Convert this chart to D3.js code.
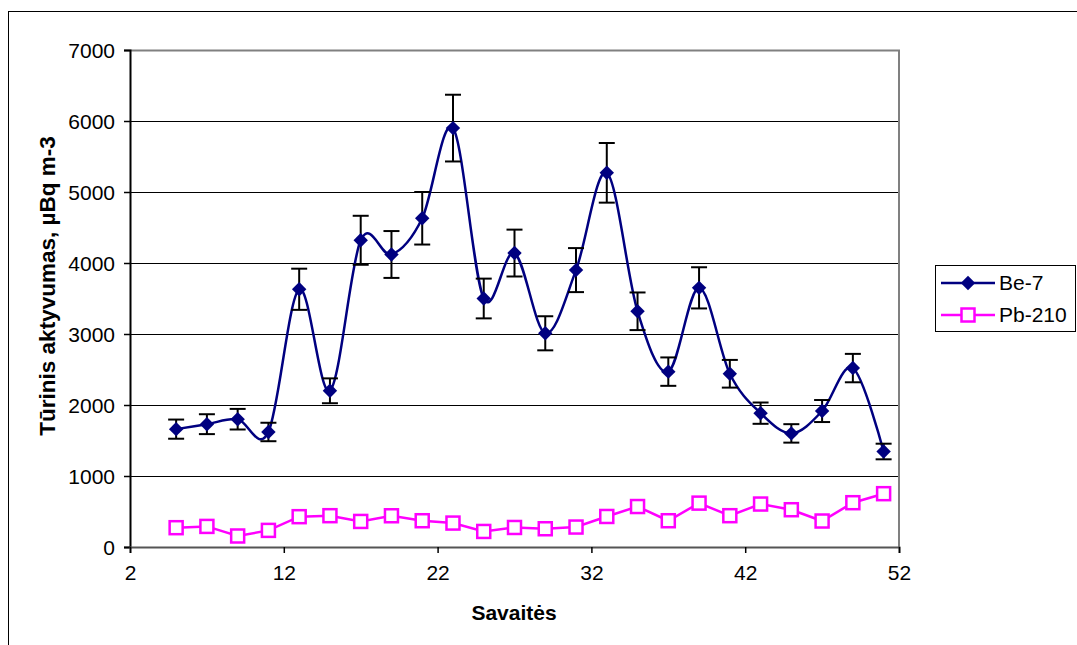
<!DOCTYPE html>
<html>
<head>
<meta charset="utf-8">
<script src="https://cdn.jsdelivr.net/npm/d3@7"></script>
<style>
  body { margin: 0; background: #fff; }
  svg { display: block; font-family: "Liberation Sans", Arial, sans-serif; }
</style>
</head>
<body>
<svg width="1077" height="645"></svg>
<script>
const svg = d3.select("svg");

const width = 1077;
const height = 645;
const plot = { left: 130, right: 899, top: 50, bottom: 547 };

// weeks
const weeks = [5, 7, 9, 11, 13, 15, 17, 19, 21, 23, 25, 27, 29, 31, 33, 35, 37, 39, 41, 43, 45, 47, 49, 51];
const be7 = [1660, 1730, 1800, 1620, 3630, 2200, 4320, 4120, 4630, 5900, 3500, 4140,
             3010, 3900, 5270, 3320, 2470, 3650, 2440, 1885, 1600, 1915, 2520, 1345];
const be7Err = [135, 140, 145, 130, 290, 175, 345, 330, 370, 470, 280, 330,
                240, 310, 420, 265, 200, 290, 195, 150, 130, 155, 200, 110];
const pb210 = [272, 290, 155, 234, 427, 441, 360, 440, 370, 337, 219, 275,
               257, 281, 430, 570, 370, 618, 441, 605, 525, 366, 624, 751];
const xTicks = [2, 12, 22, 32, 42, 52];
const yTicks = [0, 1000, 2000, 3000, 4000, 5000, 6000, 7000];

const x = d3.scaleLinear().domain([2, 52]).range([plot.left, plot.right]);
const y = d3.scaleLinear().domain([0, 7000]).range([plot.bottom, plot.top]);

// outer frame
svg.append("rect")
    .attr("x", 8.5).attr("y", 11.5)
    .attr("width", 1100).attr("height", 700)
    .attr("fill", "none").attr("stroke", "#000").attr("stroke-width", 1);

// gridlines
svg.append("g")
    .selectAll("line")
    .data(yTicks.filter(d => d > 0 && d < 7000))
    .enter()
    .append("line")
    .attr("x1", plot.left).attr("x2", plot.right)
    .attr("y1", d => Math.round(y(d)) + 0.5).attr("y2", d => Math.round(y(d)) + 0.5)
    .attr("stroke", "#000").attr("stroke-width", 1);

// plot border top + right (grey)
svg.append("path")
    .attr("d", `M${plot.left},${plot.top + 0.5}H${plot.right}V${plot.bottom}`)
    .attr("fill", "none").attr("stroke", "#808080").attr("stroke-width", 2);

// axes
const yAxis = svg.append("g")
    .attr("transform", `translate(${plot.left},0)`)
    .call(d3.axisLeft(y).tickValues(yTicks).tickSize(6).tickPadding(9).tickFormat(d3.format("d")));
yAxis.select(".domain").attr("stroke", "#000").attr("stroke-width", 2);

const xAxis = svg.append("g")
    .attr("transform", `translate(0,${plot.bottom})`)
    .call(d3.axisBottom(x).tickValues(xTicks).tickSize(6).tickPadding(12).tickFormat(d3.format("d")));
xAxis.select(".domain").attr("stroke", "#555").attr("stroke-width", 2);

svg.selectAll(".tick line").attr("stroke", "#000").attr("stroke-width", 1.5);
svg.selectAll(".tick text").attr("font-size", 21).attr("fill", "#000")
    .attr("font-family", "Liberation Sans, Arial, sans-serif");
yAxis.selectAll(".tick text").attr("dy", "0.35em");

// axis titles
svg.append("text")
    .attr("x", 514).attr("y", 620)
    .attr("text-anchor", "middle")
    .attr("font-size", 21).attr("font-weight", "bold")
    .text("Savaitės");

svg.append("text")
    .attr("transform", `translate(55,286) rotate(-90)`)
    .attr("text-anchor", "middle")
    .attr("font-size", 22.5).attr("font-weight", "bold")
    .text("Tūrinis aktyvumas, µBq m-3");

// Pb-210 line
const pbData = weeks.map((w, i) => ({ w, v: pb210[i] }));
svg.append("path")
    .datum(pbData)
    .attr("d", d3.line().x(d => x(d.w)).y(d => y(d.v)))
    .attr("fill", "none").attr("stroke", "#FF00FF").attr("stroke-width", 2.5);

svg.append("g")
    .selectAll("rect")
    .data(pbData)
    .enter()
    .append("rect")
    .attr("x", d => x(d.w) - 6.5).attr("y", d => y(d.v) - 6.5)
    .attr("width", 13).attr("height", 13)
    .attr("fill", "#fff").attr("stroke", "#FF00FF").attr("stroke-width", 2.5);

// Be-7 smoothed line
const beData = weeks.map((w, i) => ({ w, v: be7[i], e: be7Err[i] }));
svg.append("path")
    .datum(beData)
    .attr("d", d3.line().x(d => x(d.w)).y(d => y(d.v)).curve(d3.curveCardinal.tension(0)))
    .attr("fill", "none").attr("stroke", "#000080").attr("stroke-width", 2.5);

// error bars
const eb = svg.append("g").attr("stroke", "#000").attr("stroke-width", 2);
eb.selectAll("line.v")
    .data(beData).enter().append("line")
    .attr("x1", d => x(d.w)).attr("x2", d => x(d.w))
    .attr("y1", d => y(d.v - d.e)).attr("y2", d => y(d.v + d.e));
eb.selectAll("line.top")
    .data(beData).enter().append("line")
    .attr("x1", d => x(d.w) - 8).attr("x2", d => x(d.w) + 8)
    .attr("y1", d => y(d.v + d.e)).attr("y2", d => y(d.v + d.e));
eb.selectAll("line.bot")
    .data(beData).enter().append("line")
    .attr("x1", d => x(d.w) - 8).attr("x2", d => x(d.w) + 8)
    .attr("y1", d => y(d.v - d.e)).attr("y2", d => y(d.v - d.e));

const diamond = d3.symbol().type(d3.symbolSquare).size(104);
svg.append("g")
    .selectAll("path")
    .data(beData)
    .enter()
    .append("path")
    .attr("d", diamond)
    .attr("transform", d => `translate(${x(d.w)},${y(d.v)}) rotate(45)`)
    .attr("fill", "#000080");

// legend
const legend = svg.append("g").attr("transform", "translate(935,265)");
legend.append("rect")
    .attr("x", 0.5).attr("y", 0.5).attr("width", 140).attr("height", 66)
    .attr("fill", "#fff").attr("stroke", "#000").attr("stroke-width", 1);

const be = legend.append("g").attr("transform", "translate(0,18)");
be.append("line").attr("x1", 6).attr("x2", 60).attr("stroke", "#000080").attr("stroke-width", 2.5);
be.append("path").attr("d", diamond).attr("transform", "translate(33,0) rotate(45)").attr("fill", "#000080");
be.append("text").attr("x", 64).attr("dy", "0.35em").attr("font-size", 21).text("Be-7");

const pb = legend.append("g").attr("transform", "translate(0,50)");
pb.append("line").attr("x1", 6).attr("x2", 60).attr("stroke", "#FF00FF").attr("stroke-width", 2.5);
pb.append("rect").attr("x", 33 - 6.5).attr("y", -6.5).attr("width", 13).attr("height", 13)
    .attr("fill", "#fff").attr("stroke", "#FF00FF").attr("stroke-width", 2.5);
pb.append("text").attr("x", 64).attr("dy", "0.35em").attr("font-size", 21).text("Pb-210");
</script>
</body>
</html>
